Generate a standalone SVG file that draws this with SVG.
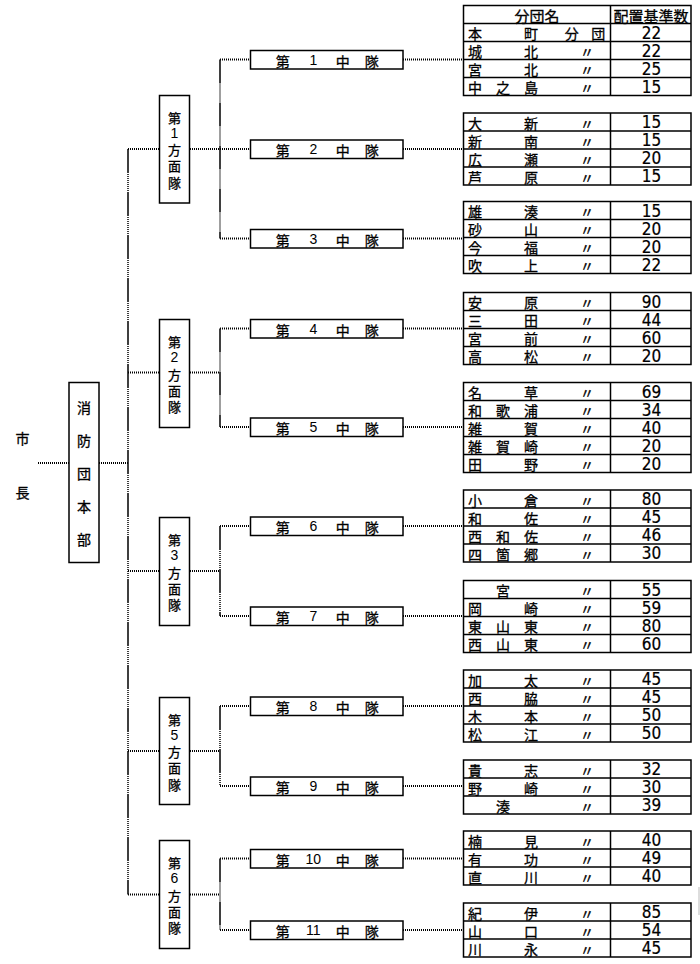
<svg xmlns="http://www.w3.org/2000/svg" width="700" height="964" viewBox="0 0 700 964">
<style>
.bx{fill:#fff;stroke:#000;stroke-width:1.5}
.tb{fill:none;stroke:#000;stroke-width:1.5}
.dt{fill:none;stroke:#000;stroke-width:2;stroke-dasharray:1 1}
.vl{fill:none;stroke:#000;stroke-width:1.5;stroke-dasharray:24 1 1 1 1 1 1 1 1 1 1 1 1 1 1 1 1 1 1 1}
text{fill:#000;dominant-baseline:central;text-anchor:middle}
.j,.v,.h{font-family:"Noto Sans CJK JP","Noto Sans CJK SC",sans-serif;stroke:#000;stroke-width:0.3;transform:translateY(0.8px)}
.j{font-size:14px}
.v{font-size:13px}
.h{font-size:15px}
.d{font-family:"Liberation Sans",Arial,sans-serif;font-size:14px}
.n{font-family:"Liberation Sans Narrow","DejaVu Sans Condensed","Liberation Sans",sans-serif;font-size:17px;stroke:#000;stroke-width:0.2}
</style>
<rect width="700" height="964" fill="#fff"/>
<g id="connectors">
<line class="dt" x1="38" y1="463" x2="69" y2="463"/>
<line class="dt" x1="99" y1="463" x2="128" y2="463"/>
<line class="vl" x1="128" y1="149" x2="128" y2="894.5"/>
<line class="dt" x1="128" y1="149" x2="159" y2="149"/>
<line class="dt" x1="128" y1="372.5" x2="159" y2="372.5"/>
<line class="dt" x1="128" y1="571" x2="159" y2="571"/>
<line class="dt" x1="128" y1="751" x2="159" y2="751"/>
<line class="dt" x1="128" y1="894.5" x2="159" y2="894.5"/>
<line class="dt" x1="190" y1="149" x2="220" y2="149"/>
<line class="dt" x1="190" y1="372.5" x2="220" y2="372.5"/>
<line class="dt" x1="190" y1="571" x2="220" y2="571"/>
<line class="dt" x1="190" y1="751" x2="220" y2="751"/>
<line class="dt" x1="190" y1="894.5" x2="220" y2="894.5"/>
<line class="vl" x1="220" y1="59.5" x2="220" y2="238.5"/>
<line class="vl" x1="220" y1="328.5" x2="220" y2="427"/>
<line class="vl" x1="220" y1="526" x2="220" y2="616"/>
<line class="vl" x1="220" y1="706" x2="220" y2="786"/>
<line class="vl" x1="220" y1="858.5" x2="220" y2="930"/>
<g>
<line class="dt" x1="220" y1="59.5" x2="250" y2="59.5"/><line class="dt" x1="403" y1="59.5" x2="463" y2="59.5"/>
<line class="dt" x1="220" y1="149" x2="250" y2="149"/><line class="dt" x1="403" y1="149" x2="463" y2="149"/>
<line class="dt" x1="220" y1="238.5" x2="250" y2="238.5"/><line class="dt" x1="403" y1="238.5" x2="463" y2="238.5"/>
<line class="dt" x1="220" y1="328.5" x2="250" y2="328.5"/><line class="dt" x1="403" y1="328.5" x2="463" y2="328.5"/>
<line class="dt" x1="220" y1="427" x2="250" y2="427"/><line class="dt" x1="403" y1="427" x2="463" y2="427"/>
<line class="dt" x1="220" y1="526" x2="250" y2="526"/><line class="dt" x1="403" y1="526" x2="463" y2="526"/>
<line class="dt" x1="220" y1="616" x2="250" y2="616"/><line class="dt" x1="403" y1="616" x2="463" y2="616"/>
<line class="dt" x1="220" y1="706" x2="250" y2="706"/><line class="dt" x1="403" y1="706" x2="463" y2="706"/>
<line class="dt" x1="220" y1="786" x2="250" y2="786"/><line class="dt" x1="403" y1="786" x2="463" y2="786"/>
<line class="dt" x1="220" y1="858.5" x2="250" y2="858.5"/><line class="dt" x1="403" y1="858.5" x2="463" y2="858.5"/>
<line class="dt" x1="220" y1="930" x2="250" y2="930"/><line class="dt" x1="403" y1="930" x2="463" y2="930"/>
</g>
</g>
<g id="n-shicho">
<text class="j" x="22.5" y="437">市</text>
<text class="j" x="22.5" y="491">長</text>
</g>
<g id="n-honbu">
<rect class="bx" x="69" y="382.5" width="30" height="180"/>
<text class="j" x="84" y="406">消</text>
<text class="j" x="84" y="439.3">防</text>
<text class="j" x="84" y="472.7">団</text>
<text class="j" x="84" y="505.7">本</text>
<text class="j" x="84" y="538.3">部</text>
</g>
<g id="n-h1">
<rect class="bx" x="159.5" y="95.5" width="30" height="107.5"/>
<text class="v" x="174.5" y="116.5">第</text><text class="d" x="174.5" y="132.5">1</text><text class="v" x="174.5" y="149">方</text><text class="v" x="174.5" y="165">面</text><text class="v" x="174.5" y="181.5">隊</text>
</g>
<g id="n-h2">
<rect class="bx" x="159.5" y="319.5" width="30" height="108"/>
<text class="v" x="174.5" y="341">第</text><text class="d" x="174.5" y="357">2</text><text class="v" x="174.5" y="373.5">方</text><text class="v" x="174.5" y="389.5">面</text><text class="v" x="174.5" y="406">隊</text>
</g>
<g id="n-h3">
<rect class="bx" x="159.5" y="517.5" width="30" height="108"/>
<text class="v" x="174.5" y="539">第</text><text class="d" x="174.5" y="555">3</text><text class="v" x="174.5" y="571.5">方</text><text class="v" x="174.5" y="587.5">面</text><text class="v" x="174.5" y="604">隊</text>
</g>
<g id="n-h5">
<rect class="bx" x="159.5" y="697.5" width="30" height="107"/>
<text class="v" x="174.5" y="718.5">第</text><text class="d" x="174.5" y="734.5">5</text><text class="v" x="174.5" y="751">方</text><text class="v" x="174.5" y="767">面</text><text class="v" x="174.5" y="783.5">隊</text>
</g>
<g id="n-h6">
<rect class="bx" x="159.5" y="840.5" width="30" height="108"/>
<text class="v" x="174.5" y="862">第</text><text class="d" x="174.5" y="878">6</text><text class="v" x="174.5" y="894.5">方</text><text class="v" x="174.5" y="910.5">面</text><text class="v" x="174.5" y="927">隊</text>
</g>
<g id="n-c1"><rect class="bx" x="250.5" y="50.5" width="152.5" height="18.5"/><text class="j" x="282.7" y="59.8">第</text><text class="d" x="313.3" y="59.8">1</text><text class="j" x="342.7" y="59.8">中</text><text class="j" x="371.7" y="59.8">隊</text></g>
<g id="n-c2"><rect class="bx" x="250.5" y="140" width="152.5" height="18.5"/><text class="j" x="282.7" y="149.3">第</text><text class="d" x="313.3" y="149.3">2</text><text class="j" x="342.7" y="149.3">中</text><text class="j" x="371.7" y="149.3">隊</text></g>
<g id="n-c3"><rect class="bx" x="250.5" y="229.5" width="152.5" height="18.5"/><text class="j" x="282.7" y="238.8">第</text><text class="d" x="313.3" y="238.8">3</text><text class="j" x="342.7" y="238.8">中</text><text class="j" x="371.7" y="238.8">隊</text></g>
<g id="n-c4"><rect class="bx" x="250.5" y="319.5" width="152.5" height="18.5"/><text class="j" x="282.7" y="328.8">第</text><text class="d" x="313.3" y="328.8">4</text><text class="j" x="342.7" y="328.8">中</text><text class="j" x="371.7" y="328.8">隊</text></g>
<g id="n-c5"><rect class="bx" x="250.5" y="418" width="152.5" height="18.5"/><text class="j" x="282.7" y="427.3">第</text><text class="d" x="313.3" y="427.3">5</text><text class="j" x="342.7" y="427.3">中</text><text class="j" x="371.7" y="427.3">隊</text></g>
<g id="n-c6"><rect class="bx" x="250.5" y="517" width="152.5" height="18.5"/><text class="j" x="282.7" y="526.3">第</text><text class="d" x="313.3" y="526.3">6</text><text class="j" x="342.7" y="526.3">中</text><text class="j" x="371.7" y="526.3">隊</text></g>
<g id="n-c7"><rect class="bx" x="250.5" y="607" width="152.5" height="18.5"/><text class="j" x="282.7" y="616.3">第</text><text class="d" x="313.3" y="616.3">7</text><text class="j" x="342.7" y="616.3">中</text><text class="j" x="371.7" y="616.3">隊</text></g>
<g id="n-c8"><rect class="bx" x="250.5" y="697" width="152.5" height="18.5"/><text class="j" x="282.7" y="706.3">第</text><text class="d" x="313.3" y="706.3">8</text><text class="j" x="342.7" y="706.3">中</text><text class="j" x="371.7" y="706.3">隊</text></g>
<g id="n-c9"><rect class="bx" x="250.5" y="777" width="152.5" height="18.5"/><text class="j" x="282.7" y="786.3">第</text><text class="d" x="313.3" y="786.3">9</text><text class="j" x="342.7" y="786.3">中</text><text class="j" x="371.7" y="786.3">隊</text></g>
<g id="n-c10"><rect class="bx" x="250.5" y="849.5" width="152.5" height="18.5"/><text class="j" x="282.7" y="858.8">第</text><text class="d" x="313.3" y="858.8">10</text><text class="j" x="342.7" y="858.8">中</text><text class="j" x="371.7" y="858.8">隊</text></g>
<g id="n-c11"><rect class="bx" x="250.5" y="921" width="152.5" height="18.5"/><text class="j" x="282.7" y="930.3">第</text><text class="d" x="313.3" y="930.3">11</text><text class="j" x="342.7" y="930.3">中</text><text class="j" x="371.7" y="930.3">隊</text></g>

<g id="n-t1">
<rect class="tb" x="463.5" y="5.5" width="227.5" height="90"/>
<path class="tb" d="M610.5 5.5V95.5M463.5 23.5H691M463.5 41.5H691M463.5 59.5H691M463.5 77.5H691"/>
<text class="h" x="537" y="14.5">分団名</text><text class="h" x="651" y="14.5">配置基準数</text>
<text class="j" x="475" y="32.5">本</text><text class="j" x="531" y="32.5">町</text><text class="j" x="571.7" y="32.5">分</text><text class="j" x="598.3" y="32.5">団</text><text class="n" x="651.5" y="32.5">22</text>
<text class="j" x="475" y="50.5">城</text><text class="j" x="531" y="50.5">北</text><text class="j" x="587" y="50.5">〃</text><text class="n" x="651.5" y="50.5">22</text>
<text class="j" x="475" y="68.5">宮</text><text class="j" x="531" y="68.5">北</text><text class="j" x="587" y="68.5">〃</text><text class="n" x="651.5" y="68.5">25</text>
<text class="j" x="475" y="86.5">中</text><text class="j" x="503" y="86.5">之</text><text class="j" x="531" y="86.5">島</text><text class="j" x="587" y="86.5">〃</text><text class="n" x="651.5" y="86.5">15</text>
</g>
<g id="n-t2">
<rect class="tb" x="463.5" y="113" width="227.5" height="72"/>
<path class="tb" d="M610.5 113V185M463.5 131H691M463.5 149H691M463.5 167H691"/>
<text class="j" x="475" y="122">大</text><text class="j" x="531" y="122">新</text><text class="j" x="587" y="122">〃</text><text class="n" x="651.5" y="122">15</text>
<text class="j" x="475" y="140">新</text><text class="j" x="531" y="140">南</text><text class="j" x="587" y="140">〃</text><text class="n" x="651.5" y="140">15</text>
<text class="j" x="475" y="158">広</text><text class="j" x="531" y="158">瀬</text><text class="j" x="587" y="158">〃</text><text class="n" x="651.5" y="158">20</text>
<text class="j" x="475" y="176">芦</text><text class="j" x="531" y="176">原</text><text class="j" x="587" y="176">〃</text><text class="n" x="651.5" y="176">15</text>
</g>
<g id="n-t3">
<rect class="tb" x="463.5" y="201.5" width="227.5" height="72"/>
<path class="tb" d="M610.5 201.5V273.5M463.5 219.5H691M463.5 237.5H691M463.5 255.5H691"/>
<text class="j" x="475" y="210.5">雄</text><text class="j" x="531" y="210.5">湊</text><text class="j" x="587" y="210.5">〃</text><text class="n" x="651.5" y="210.5">15</text>
<text class="j" x="475" y="228.5">砂</text><text class="j" x="531" y="228.5">山</text><text class="j" x="587" y="228.5">〃</text><text class="n" x="651.5" y="228.5">20</text>
<text class="j" x="475" y="246.5">今</text><text class="j" x="531" y="246.5">福</text><text class="j" x="587" y="246.5">〃</text><text class="n" x="651.5" y="246.5">20</text>
<text class="j" x="475" y="264.5">吹</text><text class="j" x="531" y="264.5">上</text><text class="j" x="587" y="264.5">〃</text><text class="n" x="651.5" y="264.5">22</text>
</g>
<g id="n-t4">
<rect class="tb" x="463.5" y="292.5" width="227.5" height="72"/>
<path class="tb" d="M610.5 292.5V364.5M463.5 310.5H691M463.5 328.5H691M463.5 346.5H691"/>
<text class="j" x="475" y="301.5">安</text><text class="j" x="531" y="301.5">原</text><text class="j" x="587" y="301.5">〃</text><text class="n" x="651.5" y="301.5">90</text>
<text class="j" x="475" y="319.5">三</text><text class="j" x="531" y="319.5">田</text><text class="j" x="587" y="319.5">〃</text><text class="n" x="651.5" y="319.5">44</text>
<text class="j" x="475" y="337.5">宮</text><text class="j" x="531" y="337.5">前</text><text class="j" x="587" y="337.5">〃</text><text class="n" x="651.5" y="337.5">60</text>
<text class="j" x="475" y="355.5">高</text><text class="j" x="531" y="355.5">松</text><text class="j" x="587" y="355.5">〃</text><text class="n" x="651.5" y="355.5">20</text>
</g>
<g id="n-t5">
<rect class="tb" x="463.5" y="382.5" width="227.5" height="90"/>
<path class="tb" d="M610.5 382.5V472.5M463.5 400.5H691M463.5 418.5H691M463.5 436.5H691M463.5 454.5H691"/>
<text class="j" x="475" y="391.5">名</text><text class="j" x="531" y="391.5">草</text><text class="j" x="587" y="391.5">〃</text><text class="n" x="651.5" y="391.5">69</text>
<text class="j" x="475" y="409.5">和</text><text class="j" x="503" y="409.5">歌</text><text class="j" x="531" y="409.5">浦</text><text class="j" x="587" y="409.5">〃</text><text class="n" x="651.5" y="409.5">34</text>
<text class="j" x="475" y="427.5">雑</text><text class="j" x="531" y="427.5">賀</text><text class="j" x="587" y="427.5">〃</text><text class="n" x="651.5" y="427.5">40</text>
<text class="j" x="475" y="445.5">雑</text><text class="j" x="503" y="445.5">賀</text><text class="j" x="531" y="445.5">崎</text><text class="j" x="587" y="445.5">〃</text><text class="n" x="651.5" y="445.5">20</text>
<text class="j" x="475" y="463.5">田</text><text class="j" x="531" y="463.5">野</text><text class="j" x="587" y="463.5">〃</text><text class="n" x="651.5" y="463.5">20</text>
</g>
<g id="n-t6">
<rect class="tb" x="463.5" y="490" width="227.5" height="72"/>
<path class="tb" d="M610.5 490V562M463.5 508H691M463.5 526H691M463.5 544H691"/>
<text class="j" x="475" y="499">小</text><text class="j" x="531" y="499">倉</text><text class="j" x="587" y="499">〃</text><text class="n" x="651.5" y="499">80</text>
<text class="j" x="475" y="517">和</text><text class="j" x="531" y="517">佐</text><text class="j" x="587" y="517">〃</text><text class="n" x="651.5" y="517">45</text>
<text class="j" x="475" y="535">西</text><text class="j" x="503" y="535">和</text><text class="j" x="531" y="535">佐</text><text class="j" x="587" y="535">〃</text><text class="n" x="651.5" y="535">46</text>
<text class="j" x="475" y="553">四</text><text class="j" x="503" y="553">箇</text><text class="j" x="531" y="553">郷</text><text class="j" x="587" y="553">〃</text><text class="n" x="651.5" y="553">30</text>
</g>
<g id="n-t7">
<rect class="tb" x="463.5" y="580.5" width="227.5" height="72"/>
<path class="tb" d="M610.5 580.5V652.5M463.5 598.5H691M463.5 616.5H691M463.5 634.5H691"/>
<text class="j" x="503" y="589.5">宮</text><text class="j" x="587" y="589.5">〃</text><text class="n" x="651.5" y="589.5">55</text>
<text class="j" x="475" y="607.5">岡</text><text class="j" x="531" y="607.5">崎</text><text class="j" x="587" y="607.5">〃</text><text class="n" x="651.5" y="607.5">59</text>
<text class="j" x="475" y="625.5">東</text><text class="j" x="503" y="625.5">山</text><text class="j" x="531" y="625.5">東</text><text class="j" x="587" y="625.5">〃</text><text class="n" x="651.5" y="625.5">80</text>
<text class="j" x="475" y="643.5">西</text><text class="j" x="503" y="643.5">山</text><text class="j" x="531" y="643.5">東</text><text class="j" x="587" y="643.5">〃</text><text class="n" x="651.5" y="643.5">60</text>
</g>
<g id="n-t8">
<rect class="tb" x="463.5" y="670" width="227.5" height="72"/>
<path class="tb" d="M610.5 670V742M463.5 688H691M463.5 706H691M463.5 724H691"/>
<text class="j" x="475" y="679">加</text><text class="j" x="531" y="679">太</text><text class="j" x="587" y="679">〃</text><text class="n" x="651.5" y="679">45</text>
<text class="j" x="475" y="697">西</text><text class="j" x="531" y="697">脇</text><text class="j" x="587" y="697">〃</text><text class="n" x="651.5" y="697">45</text>
<text class="j" x="475" y="715">木</text><text class="j" x="531" y="715">本</text><text class="j" x="587" y="715">〃</text><text class="n" x="651.5" y="715">50</text>
<text class="j" x="475" y="733">松</text><text class="j" x="531" y="733">江</text><text class="j" x="587" y="733">〃</text><text class="n" x="651.5" y="733">50</text>
</g>
<g id="n-t9">
<rect class="tb" x="463.5" y="760" width="227.5" height="54"/>
<path class="tb" d="M610.5 760V814M463.5 778H691M463.5 796H691"/>
<text class="j" x="475" y="769">貴</text><text class="j" x="531" y="769">志</text><text class="j" x="587" y="769">〃</text><text class="n" x="651.5" y="769">32</text>
<text class="j" x="475" y="787">野</text><text class="j" x="531" y="787">崎</text><text class="j" x="587" y="787">〃</text><text class="n" x="651.5" y="787">30</text>
<text class="j" x="503" y="805">湊</text><text class="j" x="587" y="805">〃</text><text class="n" x="651.5" y="805">39</text>
</g>
<g id="n-t10">
<rect class="tb" x="463.5" y="831" width="227.5" height="54"/>
<path class="tb" d="M610.5 831V885M463.5 849H691M463.5 867H691"/>
<text class="j" x="475" y="840">楠</text><text class="j" x="531" y="840">見</text><text class="j" x="587" y="840">〃</text><text class="n" x="651.5" y="840">40</text>
<text class="j" x="475" y="858">有</text><text class="j" x="531" y="858">功</text><text class="j" x="587" y="858">〃</text><text class="n" x="651.5" y="858">49</text>
<text class="j" x="475" y="876">直</text><text class="j" x="531" y="876">川</text><text class="j" x="587" y="876">〃</text><text class="n" x="651.5" y="876">40</text>
</g>
<g id="n-t11">
<rect class="tb" x="463.5" y="903" width="227.5" height="54"/>
<path class="tb" d="M610.5 903V957M463.5 921H691M463.5 939H691"/>
<text class="j" x="475" y="912">紀</text><text class="j" x="531" y="912">伊</text><text class="j" x="587" y="912">〃</text><text class="n" x="651.5" y="912">85</text>
<text class="j" x="475" y="930">山</text><text class="j" x="531" y="930">口</text><text class="j" x="587" y="930">〃</text><text class="n" x="651.5" y="930">54</text>
<text class="j" x="475" y="948">川</text><text class="j" x="531" y="948">永</text><text class="j" x="587" y="948">〃</text><text class="n" x="651.5" y="948">45</text>
</g>
<line x1="699" y1="887" x2="699" y2="915" stroke="#bbb" stroke-width="1"/>
</svg>
